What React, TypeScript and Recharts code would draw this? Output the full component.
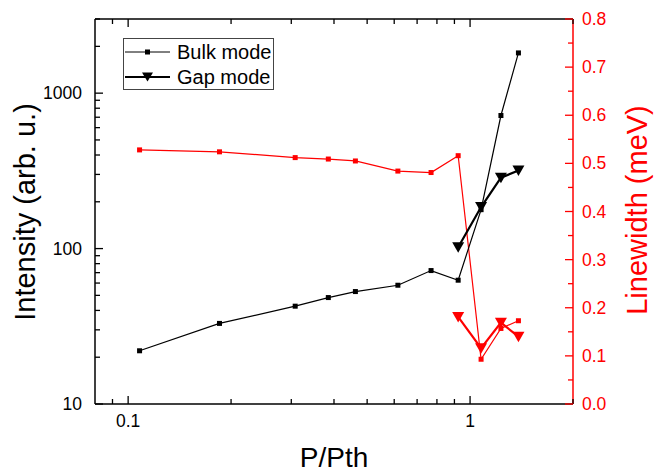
import React from 'react';
import { ComposedChart, Line, XAxis, YAxis, Legend, Label } from 'recharts';

// P/Pth values (shared by both modes)
const pRatio = [0.108, 0.185, 0.308, 0.385, 0.462, 0.615, 0.769, 0.923, 1.077, 1.231, 1.385];
const bulkIntensity = [22.0, 33.0, 42.6, 48.4, 52.9, 58.1, 72.2, 62.6, 178, 718, 1815];
const bulkLinewidth = [0.528, 0.524, 0.512, 0.509, 0.505, 0.484, 0.481, 0.516, 0.093, 0.157, 0.173];
const gapIntensity = [null, null, null, null, null, null, null, 102, 185, 286, 318];
const gapLinewidth = [null, null, null, null, null, null, null, 0.181, 0.116, 0.169, 0.14];

const xTicks = [0.09, 0.1, 0.2, 0.3, 0.4, 0.5, 0.6, 0.7, 0.8, 0.9, 1, 2];
const xMajor = [0.1, 1];
const leftTicks = [10, 20, 30, 40, 50, 60, 70, 80, 90, 100, 200, 300, 400, 500, 600, 700, 800, 900, 1000, 2000, 3000];
const leftMajor = [10, 100, 1000];
const rightTicks = [0, 0.05, 0.1, 0.15, 0.2, 0.25, 0.3, 0.35, 0.4, 0.45, 0.5, 0.55, 0.6, 0.65, 0.7, 0.75, 0.8];

const data = pRatio.map((x, i) => ({
  x,
  bulk: bulkIntensity[i],
  bulkLw: bulkLinewidth[i],
  gap: gapIntensity[i],
  gapLw: gapLinewidth[i],
}));

const FONT = '"Liberation Sans", Arial, sans-serif';
const RED = '#ff0000';
const isTenth = (v: number) => Math.abs(v * 10 - Math.round(v * 10)) < 1e-6;

const BottomTick = (props: any) => {
  const { x, y, payload } = props;
  const major = xMajor.includes(payload.value);
  return (
    <g>
      <line x1={x} x2={x} y1={y} y2={y - (major ? 8 : 5)} stroke="#000" strokeWidth={1.3} />
      {major && (
        <text x={x} y={y + 23} textAnchor="middle" fontSize={17.5} fontFamily={FONT} fill="#000">
          {payload.value}
        </text>
      )}
    </g>
  );
};

const TopTick = (props: any) => {
  const { x, y, payload } = props;
  const major = xMajor.includes(payload.value);
  return <line x1={x} x2={x} y1={y} y2={y + (major ? 8 : 5)} stroke="#000" strokeWidth={1.3} />;
};

const LeftTick = (props: any) => {
  const { x, y, payload } = props;
  const major = leftMajor.includes(payload.value);
  return (
    <g>
      <line x1={x} x2={x + (major ? 8 : 5)} y1={y} y2={y} stroke="#000" strokeWidth={1.3} />
      {major && (
        <text x={x - 13} y={y + 6} textAnchor="end" fontSize={17.5} fontFamily={FONT} fill="#000">
          {payload.value}
        </text>
      )}
    </g>
  );
};

const RightTick = (props: any) => {
  const { x, y, payload } = props;
  const major = isTenth(payload.value);
  return (
    <g>
      <line x1={x} x2={x - (major ? 8 : 5)} y1={y} y2={y} stroke={RED} strokeWidth={1.3} />
      {major && (
        <text x={x + 9} y={y + 6} textAnchor="start" fontSize={17.5} fontFamily={FONT} fill={RED}>
          {payload.value.toFixed(1)}
        </text>
      )}
    </g>
  );
};

const squareDot = (color: string) => (props: any) => {
  const { cx, cy, index } = props;
  if (cx == null || cy == null) return <g key={index} />;
  return <rect key={index} x={cx - 2.5} y={cy - 2.5} width={5} height={5} fill={color} />;
};

const triangleDot = (color: string) => (props: any) => {
  const { cx, cy, index } = props;
  if (cx == null || cy == null) return <g key={index} />;
  return (
    <path key={index} d={`M${cx - 6},${cy - 5} L${cx + 6},${cy - 5} L${cx},${cy + 5.5} Z`} fill={color} />
  );
};

const LegendBox = () => (
  <svg width={152} height={53} style={{ display: 'block' }}>
    <rect x={0.5} y={0.5} width={150} height={51} fill="#fff" stroke="#444" strokeWidth={1} />
    <line x1={2} x2={47} y1={14} y2={14} stroke="#000" strokeWidth={1} />
    <rect x={22} y={11.5} width={5} height={5} fill="#000" />
    <text x={54} y={21} fontSize={20} fontFamily={FONT} fill="#000">Bulk mode</text>
    <line x1={2} x2={47} y1={39} y2={39} stroke="#000" strokeWidth={2} />
    <path d="M19,34.5 L30,34.5 L24.5,43.5 Z" fill="#000" />
    <text x={54} y={46} fontSize={20} fontFamily={FONT} fill="#000">Gap mode</text>
  </svg>
);

export default function App() {
  return (
    <div style={{ position: 'absolute', left: 0, top: 0, width: 656, height: 475, background: '#fff' }}>
      <ComposedChart width={656} height={475} data={data} margin={{ top: 0, right: 23, bottom: 31, left: 35 }}>
        <XAxis
          dataKey="x"
          type="number"
          scale="log"
          domain={[0.08, 2]}
          allowDataOverflow
          ticks={xTicks}
          interval={0}
          tickSize={0}
          tickMargin={0}
          tickLine={false}
          tick={<BottomTick />}
          height={40}
          axisLine={{ stroke: '#000', strokeWidth: 1.5 }}
        >
          <Label
            content={() => (
              <text x={334} y={467} textAnchor="middle" fontSize={28} fontFamily={FONT} fill="#000">
                P/Pth
              </text>
            )}
          />
        </XAxis>
        <XAxis
          xAxisId="top"
          orientation="top"
          dataKey="x"
          type="number"
          scale="log"
          domain={[0.08, 2]}
          allowDataOverflow
          ticks={xTicks}
          interval={0}
          tickSize={0}
          tickMargin={0}
          tickLine={false}
          tick={<TopTick />}
          height={19}
          axisLine={{ stroke: '#000', strokeWidth: 1.5 }}
        />
        <YAxis
          yAxisId="left"
          type="number"
          scale="log"
          domain={[10, 3000]}
          allowDataOverflow
          ticks={leftTicks}
          interval={0}
          tickSize={0}
          tickMargin={0}
          tickLine={false}
          tick={<LeftTick />}
          width={60}
          axisLine={{ stroke: '#000', strokeWidth: 1.5 }}
        >
          <Label
            content={() => (
              <text
                x={35}
                y={212}
                transform="rotate(-90 35 212)"
                textAnchor="middle"
                fontSize={29}
                fontFamily={FONT}
                fill="#000"
              >
                Intensity (arb. u.)
              </text>
            )}
          />
        </YAxis>
        <YAxis
          yAxisId="right"
          orientation="right"
          type="number"
          domain={[0, 0.8]}
          allowDataOverflow
          ticks={rightTicks}
          interval={0}
          tickSize={0}
          tickMargin={0}
          tickLine={false}
          tick={<RightTick />}
          width={60}
          axisLine={{ stroke: RED, strokeWidth: 1.5 }}
        >
          <Label
            content={() => (
              <text
                x={647}
                y={210}
                transform="rotate(-90 647 210)"
                textAnchor="middle"
                fontSize={29}
                fontFamily={FONT}
                fill={RED}
              >
                Linewidth (meV)
              </text>
            )}
          />
        </YAxis>
        <Legend
          layout="vertical"
          align="center"
          verticalAlign="middle"
          wrapperStyle={{ left: 123, top: 38, width: 152, height: 53 }}
          content={() => <LegendBox />}
        />
        <Line
          yAxisId="right"
          dataKey="bulkLw"
          stroke={RED}
          strokeWidth={1.2}
          dot={squareDot(RED)}
          isAnimationActive={false}
        />
        <Line
          yAxisId="right"
          dataKey="gapLw"
          stroke={RED}
          strokeWidth={2.2}
          dot={triangleDot(RED)}
          isAnimationActive={false}
        />
        <Line
          yAxisId="left"
          dataKey="bulk"
          stroke="#000"
          strokeWidth={1.2}
          dot={squareDot('#000')}
          isAnimationActive={false}
        />
        <Line
          yAxisId="left"
          dataKey="gap"
          stroke="#000"
          strokeWidth={2.2}
          dot={triangleDot('#000')}
          isAnimationActive={false}
        />
      </ComposedChart>
    </div>
  );
}
